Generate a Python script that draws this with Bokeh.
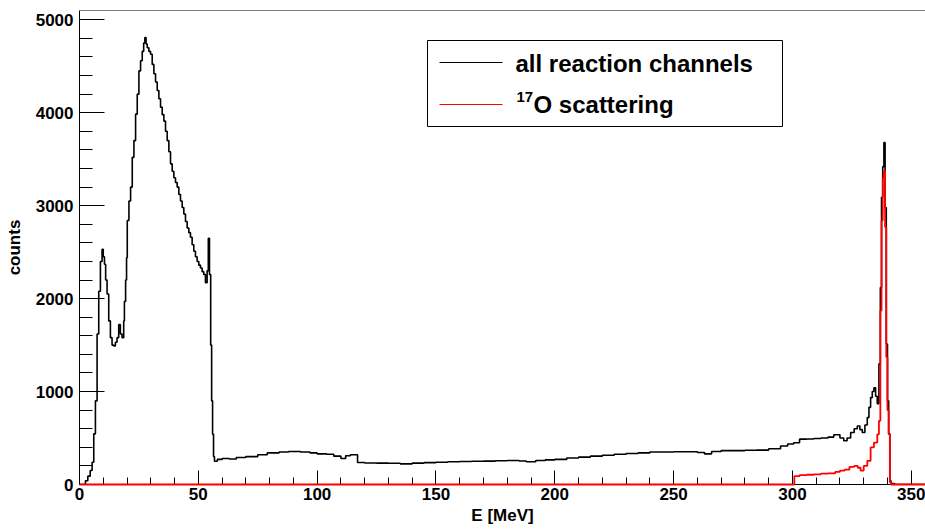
from bokeh.plotting import figure
from bokeh.models import Range1d, SingleIntervalTicker, Span
from bokeh.core.properties import value
from bokeh.embed import file_html
from bokeh.resources import INLINE

# ---- data: histogram bins (left edges, MeV) and counts ----
all_edges = [0, 2.5, 3.5, 4.5, 5.3, 6.0, 6.7, 7.4, 8.1, 8.8, 9.5, 10.0, 10.5, 11.0, 11.6,
             12.3, 13.0, 13.7, 14.4, 15.1, 15.8, 16.5, 17.2, 17.9, 18.6, 18.9, 19.4, 19.8,
             20.1, 20.8, 21.5, 22.2, 22.9, 23.6, 24.3, 25.0, 25.7, 26.4, 27.0, 27.5, 28.0,
             28.5, 29.2, 29.9, 30.6, 31.3, 32.0, 32.7, 33.4, 34.1, 34.8, 35.5, 36.2, 36.9,
             37.6, 38.3, 39.0, 39.7, 40.4, 41.1, 41.8, 42.5, 43.2, 43.9, 44.6, 45.3, 46.0,
             46.7, 47.4, 48.1, 48.8, 49.5, 50.2, 50.9, 51.6, 52.3, 53.0, 53.7, 54.2, 54.7,
             55.2, 55.6, 56.0, 56.4, 56.8, 58, 60, 63, 66, 70, 75, 79, 84, 88, 93, 97, 100,
             104, 107, 110, 112, 114, 117, 120, 125, 130, 135, 140, 145, 150, 155, 160, 165,
             170, 175, 180, 185, 188, 192, 196, 200, 205, 210, 215, 220, 225, 230, 235, 240,
             245, 250, 255, 260, 263, 266, 270, 275, 280, 285, 290, 295, 298, 300.5, 303,
             306, 309, 312, 315, 317.4, 320, 321.6, 323, 324.5, 326, 327.3, 328.4, 329.4,
             330.5, 331.5, 332.2, 332.9, 333.6, 334.3, 335.0, 335.7, 336.4, 337.0, 337.5,
             338.0, 338.5, 339.0, 339.5, 340.0, 340.5, 341.0, 341.5, 343]
all_counts = [0, 40, 90, 150, 240, 545, 900, 1620, 2080, 2400, 2530, 2450, 2370, 2200, 2050,
              1760, 1580, 1500, 1490, 1530, 1580, 1720, 1620, 1580, 1760, 1970, 2200, 2440,
              2840, 3050, 3200, 3520, 3700, 3985, 4200, 4450, 4560, 4660, 4750, 4810, 4740,
              4700, 4660, 4630, 4520, 4420, 4330, 4240, 4150, 4060, 3980, 3910, 3800, 3700,
              3580, 3450, 3370, 3300, 3250, 3200, 3120, 3050, 2980, 2910, 2830, 2760, 2710,
              2660, 2580, 2510, 2450, 2400, 2360, 2330, 2290, 2260, 2170, 2300, 2650, 2260,
              1500, 900, 540, 300, 250, 270, 280, 275, 290, 300, 320, 340, 350, 355, 350, 340,
              330, 325, 305, 280, 310, 320, 237, 232, 230, 228, 222, 230, 235, 240, 245, 248,
              250, 252, 255, 258, 253, 245, 258, 265, 270, 285, 295, 305, 315, 325, 333, 340,
              350, 350, 352, 352, 345, 330, 355, 365, 365, 368, 370, 385, 415, 435, 450, 488,
              490, 495, 500, 510, 535, 500, 470, 500, 560, 600, 630, 590, 560,
              640, 720, 830, 935, 1000, 1040, 950, 870, 1300, 2120, 3090,
              3420, 3680, 2980, 1510, 900, 545, 40, 10, 0]

o17_edges = [0, 300.8, 303, 306, 309, 312, 315, 318, 320, 322, 324, 326, 327.5, 328.7, 330,
             331.5, 332.9, 334.3, 335.7, 336.4, 337.0, 337.5, 338.0, 338.5, 339.0, 339.5,
             340.0, 340.5, 341.0, 341.5]
o17_counts = [0, 90, 100, 105, 110, 118, 120, 135, 150, 160, 190, 200, 180, 150, 200,
              255, 400, 450, 540, 685, 1870, 2840, 3300, 3375, 2770, 1370,
              800, 540, 25, 0]

x_ticks_interval = 50
y_ticks_interval = 1000
legend_labels = ["all reaction channels", "17", "O scattering"]

X_MAX = 356
Y_MAX = 5100

FONT = "Liberation Sans"

p = figure(frame_width=846, frame_height=474, x_range=Range1d(0, X_MAX), y_range=Range1d(0, Y_MAX),
           output_backend="svg", toolbar_location=None,
           min_border_left=79, min_border_right=0, min_border_top=10, min_border_bottom=10)
p.background_fill_color = "white"
p.border_fill_color = "white"
p.outline_line_color = None
p.xgrid.visible = False
p.ygrid.visible = False

p.xaxis.ticker = SingleIntervalTicker(interval=x_ticks_interval, num_minor_ticks=5)
p.yaxis.ticker = SingleIntervalTicker(interval=y_ticks_interval, num_minor_ticks=5)
for ax in (p.xaxis, p.yaxis):
    ax.axis_line_color = "black"
    ax.major_tick_out = 0
    ax.minor_tick_out = 0
    ax.major_tick_line_color = "black"
    ax.minor_tick_line_color = "black"
    ax.major_label_text_font = FONT
    ax.major_label_text_font_style = "bold"
    ax.major_label_text_font_size = "17px"
    ax.major_label_text_color = "black"
    ax.axis_label_text_font = FONT
    ax.axis_label_text_font_style = "bold"
    ax.axis_label_text_font_size = "17px"
    ax.axis_label_text_color = "black"
p.xaxis.major_tick_in = 14
p.xaxis.minor_tick_in = 7
p.yaxis.major_tick_in = 25
p.yaxis.minor_tick_in = 13
p.xaxis.major_label_standoff = 3
p.xaxis.axis_label_standoff = 3
p.yaxis.major_label_standoff = 6
p.yaxis.axis_label_standoff = 9
p.xaxis.axis_label = "E [MeV]"
p.yaxis.axis_label = "counts"

# top border of the frame (right side lies outside the picture)
p.add_layout(Span(location=Y_MAX, dimension="width", line_color="black", line_width=1))

# histograms as steps
bx = all_edges + [X_MAX]
by = all_counts + [all_counts[-1]]
p.step(bx, by, mode="after", line_color="black", line_width=1.6)
rx = o17_edges + [X_MAX]
ry = o17_counts + [o17_counts[-1]]
p.step(rx, ry, mode="after", line_color="red", line_width=1.8, level="overlay")

# ---- legend (pixel layout converted into data space) ----
F_LEFT, F_RIGHT, F_TOP, F_BOTTOM = 79, 925, 10, 484
def dx(px):
    return (px - F_LEFT) / (F_RIGHT - F_LEFT) * X_MAX
def dy(py):
    return (F_BOTTOM - py) / (F_BOTTOM - F_TOP) * Y_MAX

p.quad(left=[dx(427)], right=[dx(782)], top=[dy(40)], bottom=[dy(126)],
       fill_color="white", line_color="black", line_width=1)
p.segment(x0=[dx(439), dx(439)], y0=[dy(62), dy(104)], x1=[dx(502), dx(502)],
          y1=[dy(62), dy(104)], line_color=["black", "red"], line_width=1)
p.text(x=[dx(515)], y=[dy(63)], text=[legend_labels[0]], text_font=value(FONT),
       text_font_style="bold", text_font_size="24px", text_baseline="middle",
       text_align="left", text_color="black")
p.text(x=[dx(516)], y=[dy(96)], text=[legend_labels[1]], text_font=value(FONT),
       text_font_style="bold", text_font_size="15px", text_baseline="middle",
       text_align="left", text_color="black")
p.text(x=[dx(533)], y=[dy(104)], text=[legend_labels[2]], text_font=value(FONT),
       text_font_style="bold", text_font_size="24px", text_baseline="middle",
       text_align="left", text_color="black")

open("out.html", "w").write(file_html(p, INLINE))
